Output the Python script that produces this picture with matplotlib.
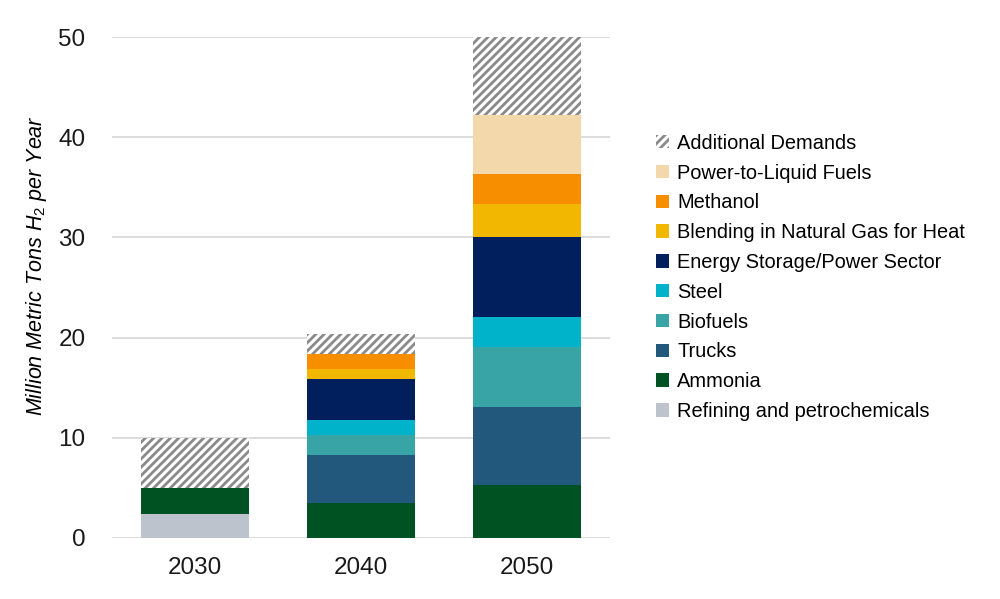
import matplotlib
matplotlib.use('Agg')
import matplotlib.pyplot as plt
import numpy as np

# chart values (million metric tons H2 per year)
years = ['2030', '2040', '2050']
refining = [2.4, 0.0, 0.0]
ammonia = [2.55, 3.5, 5.3]
trucks = [0.0, 4.8, 7.8]
biofuels = [0.0, 2.0, 6.0]
steel = [0.0, 1.5, 3.0]
energy_storage = [0.0, 4.1, 7.9]
blending = [0.0, 1.0, 3.3]
methanol = [0.0, 1.45, 3.0]
ptl_fuels = [0.0, 0.0, 5.9]
additional = [5.05, 2.0, 7.8]

series = [
    ('Refining and petrochemicals', refining, '#BCC3CD'),
    ('Ammonia', ammonia, '#005223'),
    ('Trucks', trucks, '#22587C'),
    ('Biofuels', biofuels, '#38A4A6'),
    ('Steel', steel, '#00B3CB'),
    ('Energy Storage/Power Sector', energy_storage, '#001F5C'),
    ('Blending in Natural Gas for Heat', blending, '#F2B701'),
    ('Methanol', methanol, '#F68E00'),
    ('Power-to-Liquid Fuels', ptl_fuels, '#F2D8AA'),
]

plt.rcParams['font.family'] = ['Liberation Sans', 'DejaVu Sans']
plt.rcParams['mathtext.fontset'] = 'custom'
plt.rcParams['mathtext.rm'] = 'Liberation Sans'
plt.rcParams['mathtext.it'] = 'Liberation Sans:italic'
plt.rcParams['hatch.linewidth'] = 2.0
plt.rcParams['hatch.color'] = '#8A8A8A'

fig = plt.figure(figsize=(10, 5.99), dpi=100)
ax = fig.add_axes([0.112, 0.102, 0.498, 0.836])

x = np.arange(len(years))
width = 0.645
bottom = np.zeros(len(years))
handles = []
for name, vals, color in series:
    vals = np.array(vals)
    h = ax.bar(x, vals, width, bottom=bottom, color=color, label=name,
               linewidth=0)
    handles.append(h)
    bottom += vals

h = ax.bar(x, additional, width, bottom=bottom, color='white',
           edgecolor='#8A8A8A', hatch='////', linewidth=0,
           label='Additional Demands')
handles.append(h)

ax.set_xlim(-0.5, 2.5)
ax.set_ylim(0, 50)
ax.set_yticks(range(0, 51, 10))
ax.set_xticks(x)
ax.set_xticklabels(years)
ax.tick_params(axis='both', length=0, labelsize=17.5, colors='#1a1a1a')
ax.tick_params(axis='y', pad=19)
ax.tick_params(axis='x', pad=14)
ax.yaxis.grid(True, color='#D9D9D9', linewidth=1.3)
ax.set_axisbelow(True)
for s in ax.spines.values():
    s.set_visible(False)

ax.set_ylabel(r'Million Metric Tons $\mathit{H}_{\mathrm{2}}$ per Year',
              fontsize=15.5, style='italic')
ax.yaxis.set_label_coords(-0.126, 0.543)

leg = fig.legend(handles[::-1], [h.get_label() for h in handles[::-1]],
                 loc='upper left', bbox_to_anchor=(0.648, 0.79),
                 frameon=False, fontsize=14.4, handlelength=0.65,
                 handleheight=0.65, handletextpad=0.4, labelspacing=0.54,
                 borderaxespad=0)

fig.savefig('out.png', dpi=100, facecolor='white')
